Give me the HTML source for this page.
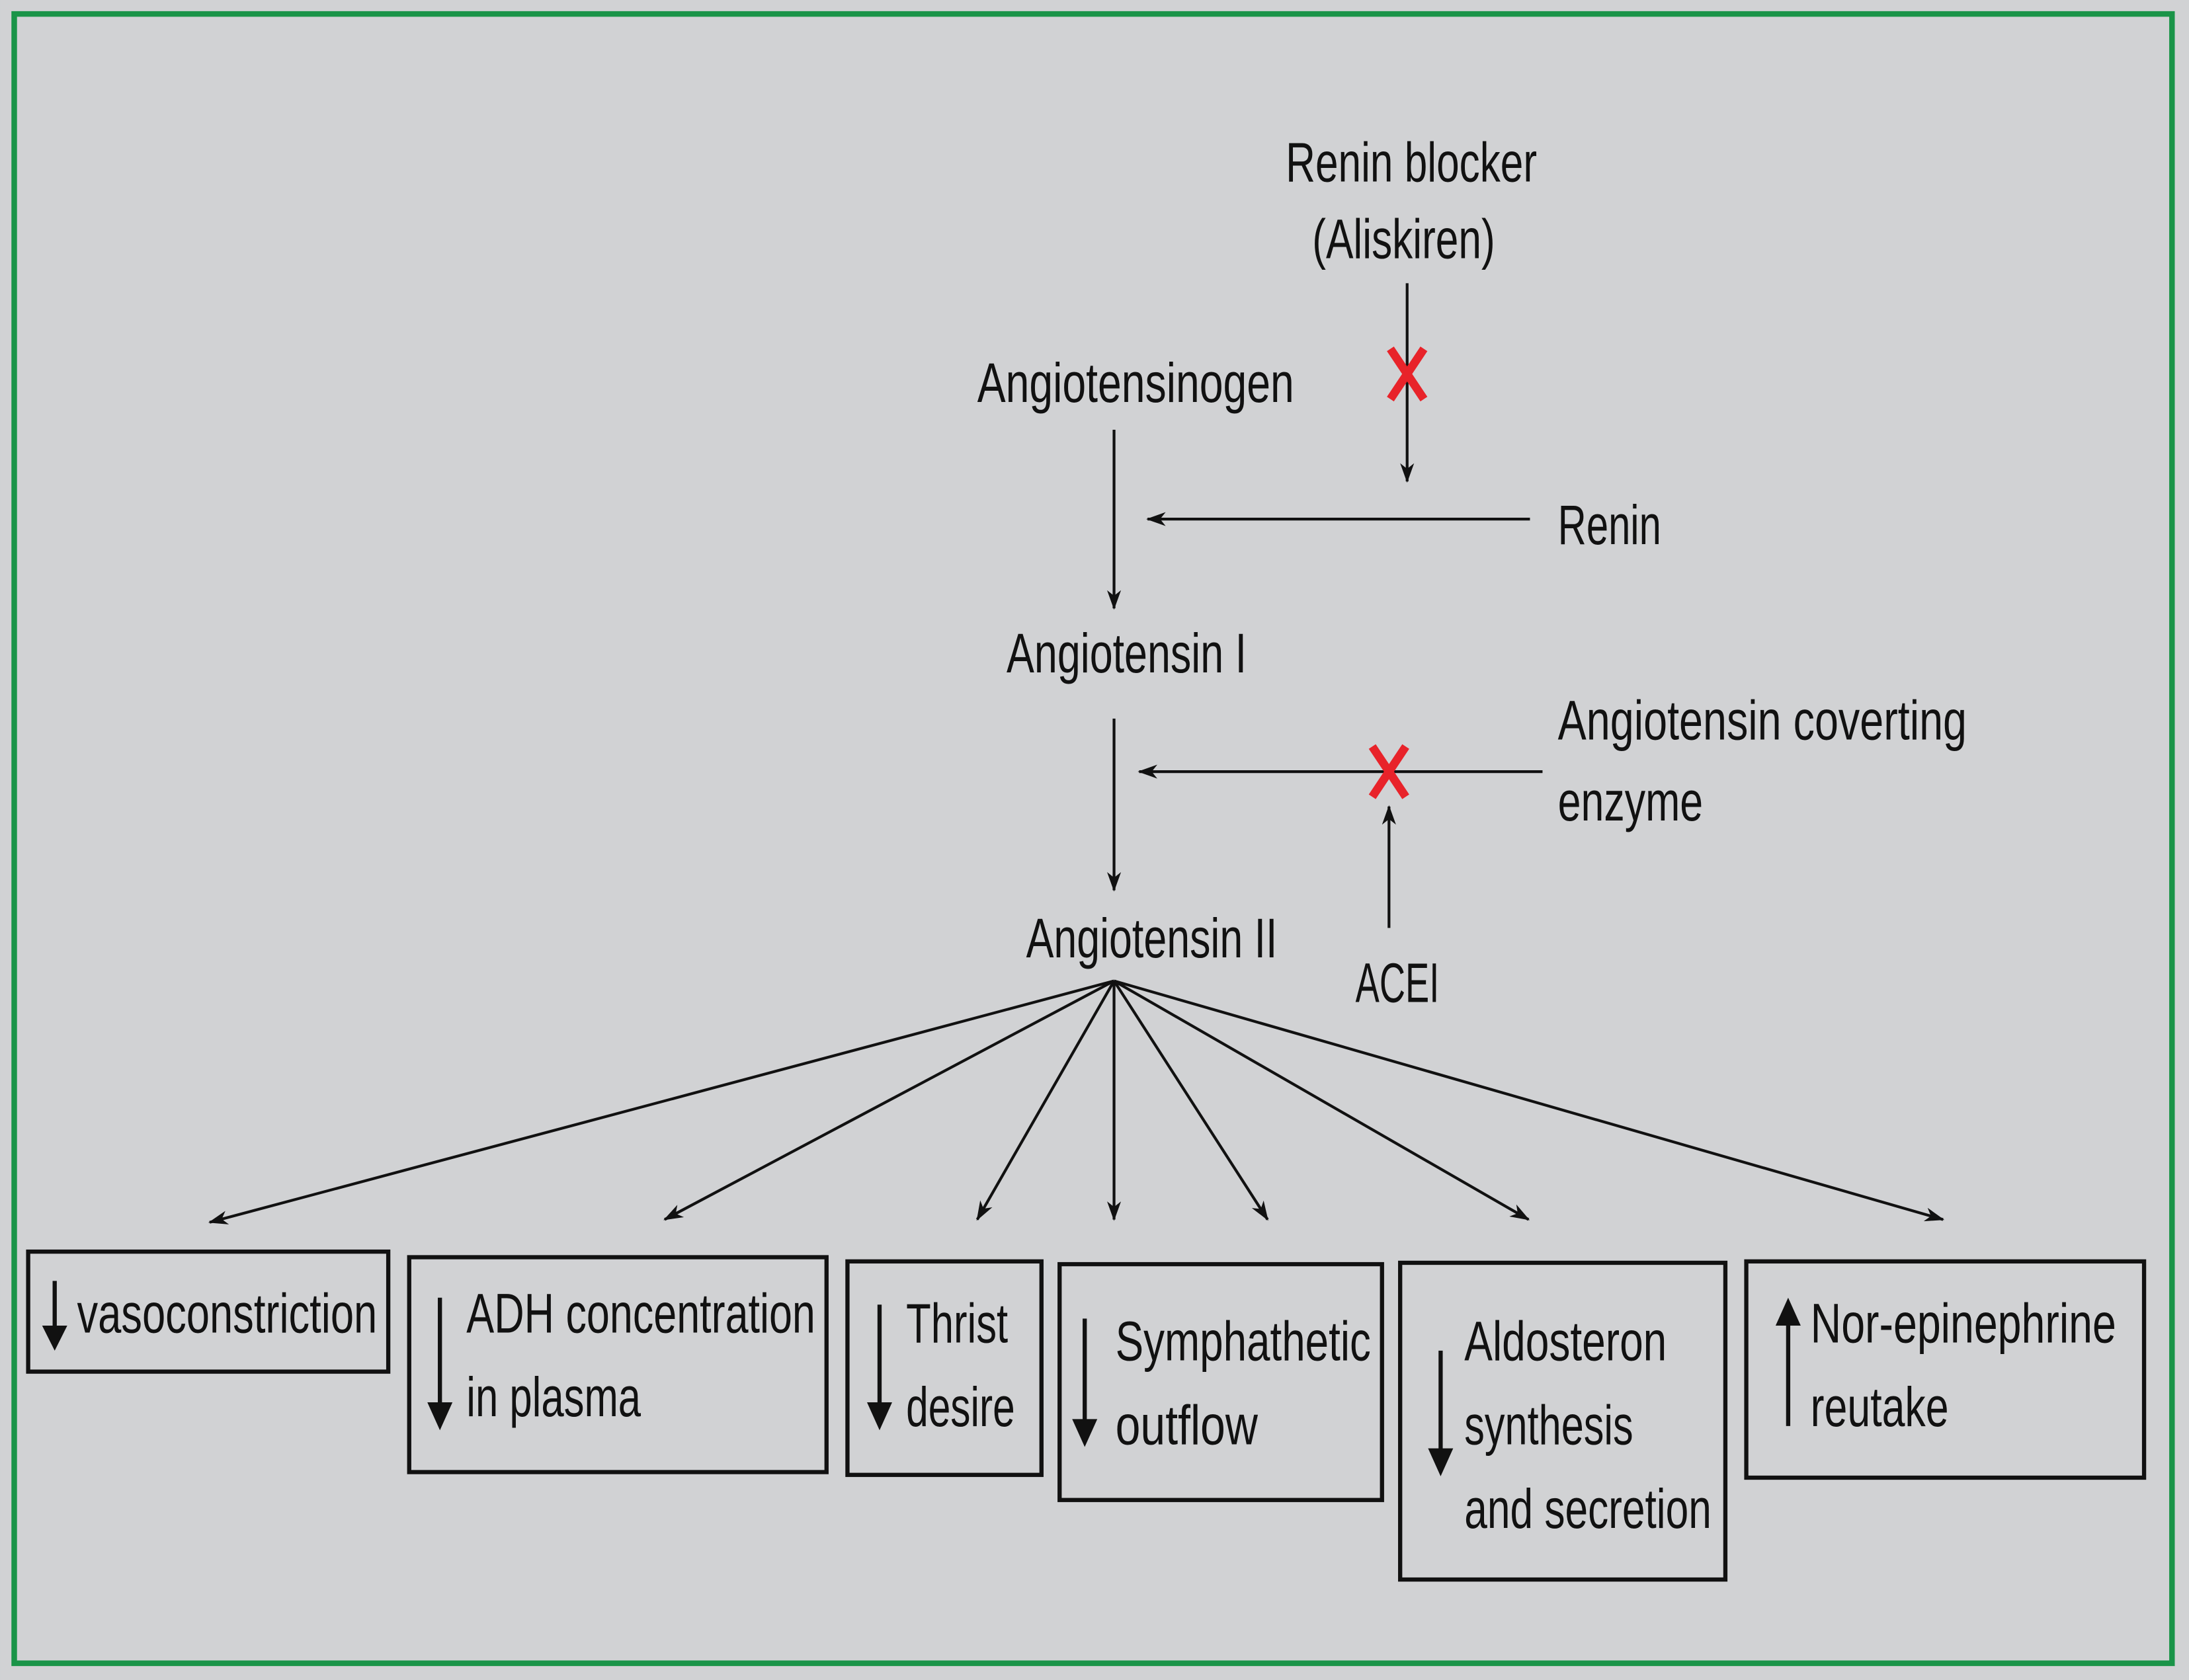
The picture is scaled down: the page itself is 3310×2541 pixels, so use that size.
<!DOCTYPE html>
<html><head><meta charset="utf-8"><style>html,body{margin:0;padding:0;background:#d1d2d4}svg{display:block}</style></head><body>
<svg width="3310" height="2541" viewBox="0 0 1568 1204" xmlns="http://www.w3.org/2000/svg" font-family="'Liberation Sans', sans-serif" font-size="40" fill="#111">
<defs>
<marker id="a" markerWidth="14" markerHeight="10" refX="13" refY="5" orient="auto" markerUnits="userSpaceOnUse"><path d="M0,0 L14,5 L0,10 L4,5 Z" fill="#111"/></marker>
</defs>
<rect x="0" y="0" width="1568" height="1204" fill="#d1d2d4"/>
<rect x="10" y="10" width="1546" height="1182" fill="none" stroke="#1a9448" stroke-width="4"/>
<g stroke="#111" stroke-width="2" fill="none" marker-end="url(#a)">
<line x1="1008" y1="203" x2="1008" y2="345"/>
<line x1="798" y1="308" x2="798" y2="436"/>
<line x1="1096" y1="372" x2="822" y2="372"/>
<line x1="798" y1="515" x2="798" y2="638"/>
<line x1="1105" y1="553" x2="816" y2="553"/>
<line x1="995" y1="665" x2="995" y2="578"/>
<line x1="798" y1="703" x2="150" y2="876"/>
<line x1="798" y1="703" x2="476" y2="874"/>
<line x1="798" y1="703" x2="700" y2="874"/>
<line x1="798" y1="703" x2="798" y2="874"/>
<line x1="798" y1="703" x2="908" y2="874"/>
<line x1="798" y1="703" x2="1095" y2="874"/>
<line x1="798" y1="703" x2="1392" y2="874"/>
</g>
<g stroke="#e8232a" stroke-width="6" fill="none">
<line x1="996" y1="250" x2="1020" y2="286"/><line x1="1020" y1="250" x2="996" y2="286"/>
<line x1="983" y1="535" x2="1007" y2="571"/><line x1="1007" y1="535" x2="983" y2="571"/>
</g>
<g lengthAdjust="spacingAndGlyphs">
<text x="921" y="130" textLength="180" lengthAdjust="spacingAndGlyphs">Renin blocker</text>
<text x="940" y="185" textLength="131" lengthAdjust="spacingAndGlyphs">(Aliskiren)</text>
<text x="700" y="288" textLength="227" lengthAdjust="spacingAndGlyphs">Angiotensinogen</text>
<text x="1116" y="390" textLength="74" lengthAdjust="spacingAndGlyphs">Renin</text>
<text x="721" y="482" textLength="172" lengthAdjust="spacingAndGlyphs">Angiotensin I</text>
<text x="1116" y="530" textLength="293" lengthAdjust="spacingAndGlyphs">Angiotensin coverting</text>
<text x="1116" y="588" textLength="104" lengthAdjust="spacingAndGlyphs">enzyme</text>
<text x="735" y="686" textLength="180" lengthAdjust="spacingAndGlyphs">Angiotensin II</text>
<text x="971" y="718" textLength="60" lengthAdjust="spacingAndGlyphs">ACEI</text>
</g>
<g stroke="#111" stroke-width="3" fill="none">
<rect x="20" y="897" width="258" height="86"/>
<rect x="293" y="901" width="299" height="154"/>
<rect x="607" y="904" width="139" height="153"/>
<rect x="759" y="906" width="231" height="169"/>
<rect x="1003" y="905" width="233" height="227"/>
<rect x="1251" y="904" width="285" height="155"/>
<line x1="39" y1="918" x2="39" y2="955"/>
<line x1="315" y1="930" x2="315" y2="1010"/>
<line x1="630" y1="935" x2="630" y2="1010"/>
<line x1="777" y1="945" x2="777" y2="1022"/>
<line x1="1032" y1="968" x2="1032" y2="1043"/>
<line x1="1281" y1="1022" x2="1281" y2="945"/>
</g>
<g fill="#111">
<path d="M30,950 L48,950 L39,968 Z"/>
<path d="M306,1005 L324,1005 L315,1025 Z"/>
<path d="M621,1005 L639,1005 L630,1025 Z"/>
<path d="M768,1017 L786,1017 L777,1037 Z"/>
<path d="M1023,1038 L1041,1038 L1032,1058 Z"/>
<path d="M1272,950 L1290,950 L1281,930 Z"/>
</g>
<g>
<text x="55" y="955" textLength="215" lengthAdjust="spacingAndGlyphs">vasoconstriction</text>
<text x="334" y="955" textLength="250" lengthAdjust="spacingAndGlyphs">ADH concentration</text>
<text x="334" y="1015" textLength="125" lengthAdjust="spacingAndGlyphs">in plasma</text>
<text x="649" y="962" textLength="73" lengthAdjust="spacingAndGlyphs">Thrist</text>
<text x="649" y="1022" textLength="78" lengthAdjust="spacingAndGlyphs">desire</text>
<text x="799" y="975" textLength="183" lengthAdjust="spacingAndGlyphs">Symphathetic</text>
<text x="799" y="1035" textLength="102" lengthAdjust="spacingAndGlyphs">outflow</text>
<text x="1049" y="975" textLength="145" lengthAdjust="spacingAndGlyphs">Aldosteron</text>
<text x="1049" y="1035" textLength="121" lengthAdjust="spacingAndGlyphs">synthesis</text>
<text x="1049" y="1095" textLength="177" lengthAdjust="spacingAndGlyphs">and secretion</text>
<text x="1297" y="962" textLength="219" lengthAdjust="spacingAndGlyphs">Nor-epinephrine</text>
<text x="1297" y="1022" textLength="99" lengthAdjust="spacingAndGlyphs">reutake</text>
</g>
</svg>
</body></html>
